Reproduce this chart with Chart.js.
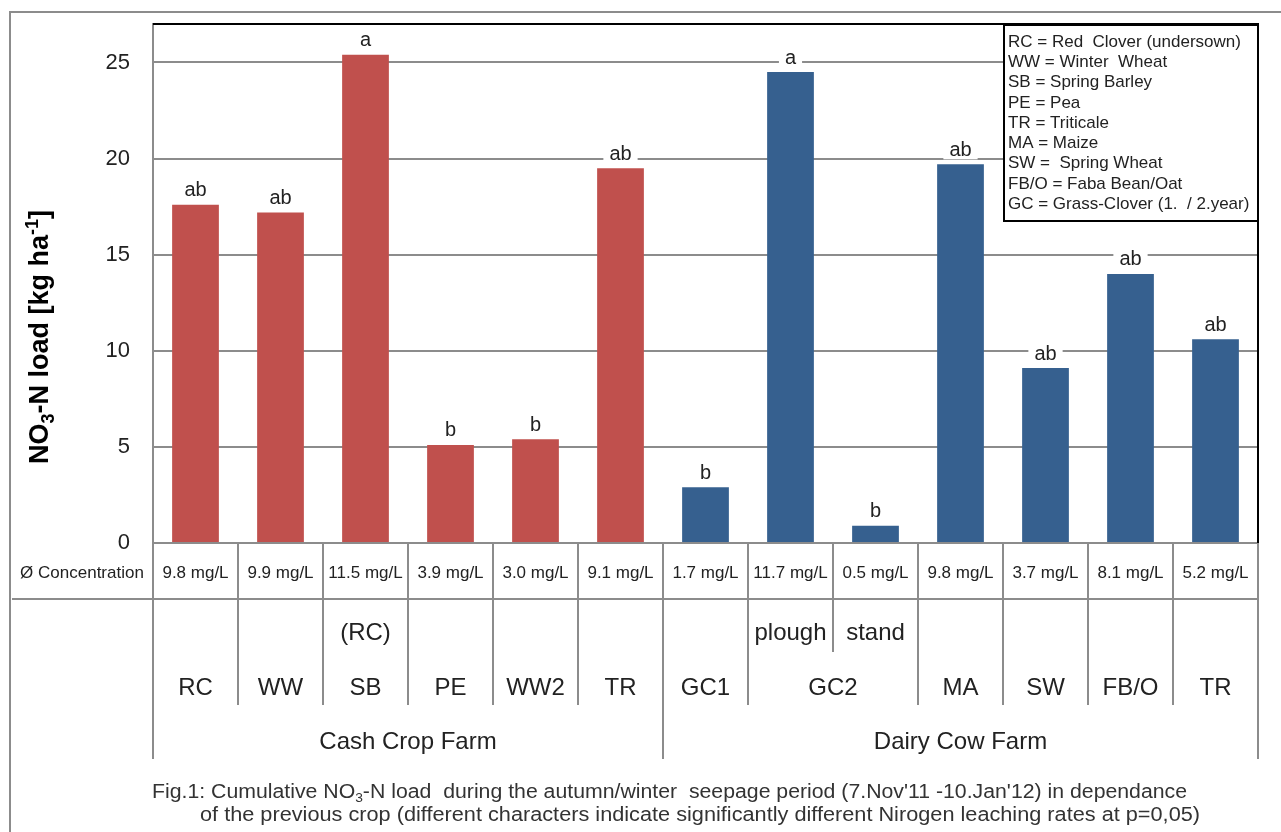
<!DOCTYPE html>
<html>
<head>
<meta charset="utf-8">
<script src="https://cdn.jsdelivr.net/npm/chart.js@4.4.1/dist/chart.umd.min.js"></script>
<style>
  html, body { margin: 0; padding: 0; background: #fff; }
  #wrap { width: 1281px; height: 832px; position: relative; }
</style>
</head>
<body>
<div id="wrap"><canvas id="chart"></canvas></div>
<script>
// Data
const barKeys = ['RC', 'WW', 'SB', 'PE', 'WW2', 'TR', 'GC1', 'GC2 plough', 'GC2 stand', 'MA', 'SW', 'FB/O', 'TR2'];
const cropLabels = ['RC', 'WW', 'SB', 'PE', 'WW2', 'TR', 'GC1', 'GC2', 'GC2', 'MA', 'SW', 'FB/O', 'TR'];
const cropNotes = ['', '', '(RC)', '', '', '', '', 'plough', 'stand', '', '', '', ''];
const farmOfBar = ['Cash Crop Farm', 'Cash Crop Farm', 'Cash Crop Farm', 'Cash Crop Farm', 'Cash Crop Farm', 'Cash Crop Farm',
  'Dairy Cow Farm', 'Dairy Cow Farm', 'Dairy Cow Farm', 'Dairy Cow Farm', 'Dairy Cow Farm', 'Dairy Cow Farm', 'Dairy Cow Farm'];
const no3Load = [17.6, 17.2, 25.4, 5.1, 5.4, 19.5, 2.9, 24.5, 0.9, 19.7, 9.1, 14.0, 10.6];
const sigLetters = ['ab', 'ab', 'a', 'b', 'b', 'ab', 'b', 'a', 'b', 'ab', 'ab', 'ab', 'ab'];
const concentrations = ['9.8 mg/L', '9.9 mg/L', '11.5 mg/L', '3.9 mg/L', '3.0 mg/L', '9.1 mg/L',
  '1.7 mg/L', '11.7 mg/L', '0.5 mg/L', '9.8 mg/L', '3.7 mg/L', '8.1 mg/L', '5.2 mg/L'];
const legendLines = [
  'RC = Red  Clover (undersown)',
  'WW = Winter  Wheat',
  'SB = Spring Barley',
  'PE = Pea',
  'TR = Triticale',
  'MA = Maize',
  'SW =  Spring Wheat',
  'FB/O = Faba Bean/Oat',
  'GC = Grass-Clover (1.  / 2.year)'
];

const FARM_COLORS = { 'Cash Crop Farm': '#C0504D', 'Dairy Cow Farm': '#36608F' };
const GRID = '#8c8c8c';
const TEXT = '#222222';
const FONT = "'Liberation Sans', Arial, sans-serif";

Chart.defaults.font.family = FONT;

// draw a run of text pieces (with sub/superscripts), squeezed to a width if asked
function drawRich(ctx, parts, x, y, size, bold, fitWidth) {
  const w = bold ? 'bold ' : '';
  let total = 0;
  parts.forEach(p => {
    ctx.font = w + (p.small ? Math.round(size * 0.65) : size) + 'px ' + FONT;
    p.w = ctx.measureText(p.t).width;
    total += p.w;
  });
  const sx = fitWidth ? fitWidth / total : 1;
  ctx.save();
  ctx.translate(x, y);
  ctx.scale(sx, 1);
  let cx = 0;
  parts.forEach(p => {
    ctx.font = w + (p.small ? Math.round(size * 0.65) : size) + 'px ' + FONT;
    ctx.fillText(p.t, cx, p.dy || 0);
    cx += p.w;
  });
  ctx.restore();
  return total;
}

const figurePlugin = {
  id: 'figure',
  afterDatasetsDraw(chart) {
    const ctx = chart.ctx;
    const area = chart.chartArea;
    // black frame at top and right of the plot
    ctx.save();
    ctx.strokeStyle = '#000';
    ctx.lineWidth = 2;
    ctx.beginPath();
    ctx.moveTo(area.left, area.top);
    ctx.lineTo(area.right, area.top);
    ctx.lineTo(area.right, area.bottom);
    ctx.stroke();

    // significance letters over the bars
    ctx.font = '20px ' + FONT;
    ctx.textAlign = 'center';
    ctx.textBaseline = 'middle';
    chart.getDatasetMeta(0).data.forEach((bar, i) => {
      const ty = bar.y - 14;
      const tw = ctx.measureText(sigLetters[i]).width;
      ctx.fillStyle = '#fff';
      ctx.fillRect(bar.x - tw / 2 - 6, ty - 9, tw + 12, 18);
      ctx.fillStyle = TEXT;
      ctx.fillText(sigLetters[i], bar.x, ty);
    });
    ctx.restore();
  },
  afterDraw(chart) {
    const ctx = chart.ctx;
    const area = chart.chartArea;
    const xs = chart.scales.x;
    const half = (xs.getPixelForValue(1) - xs.getPixelForValue(0)) / 2;
    const edge = i => xs.getPixelForValue(i) - half;   // left edge of column i
    const n = no3Load.length;
    const rowTop = area.bottom, row1 = 599, row2 = 705, row3 = 759, noteSplit = 652;

    ctx.save();
    ctx.strokeStyle = GRID;
    ctx.lineWidth = 2;
    ctx.beginPath();
    // outer frame
    ctx.moveTo(10, 832); ctx.lineTo(10, 12); ctx.lineTo(1281, 12);
    // row line under concentrations
    ctx.moveTo(12, row1); ctx.lineTo(area.right, row1);
    for (let i = 0; i <= n; i++) {
      const x = edge(i);
      ctx.moveTo(x, rowTop);
      ctx.lineTo(x, row1);
      if (i === 0 || i === n || farmOfBar[i] !== farmOfBar[i - 1]) {
        ctx.lineTo(x, row3);
      } else if (cropLabels[i] !== cropLabels[i - 1]) {
        ctx.lineTo(x, row2);
      } else {
        ctx.lineTo(x, noteSplit);
      }
    }
    ctx.stroke();

    ctx.fillStyle = TEXT;
    ctx.textAlign = 'center';
    ctx.textBaseline = 'middle';

    // concentration row
    ctx.font = '17px ' + FONT;
    ctx.fillText('\u00D8 Concentration', 82, 573);
    concentrations.forEach((c, i) => ctx.fillText(c, xs.getPixelForValue(i), 573));

    // crop names, merged where neighbours share a name
    ctx.font = '24px ' + FONT;
    let i = 0;
    while (i < n) {
      let j = i;
      while (j + 1 < n && cropLabels[j + 1] === cropLabels[i]) j++;
      ctx.fillText(cropLabels[i], (edge(i) + edge(j + 1)) / 2, 688);
      i = j + 1;
    }
    cropNotes.forEach((t, k) => { if (t) ctx.fillText(t, xs.getPixelForValue(k), 633); });

    // farm names
    i = 0;
    while (i < n) {
      let j = i;
      while (j + 1 < n && farmOfBar[j + 1] === farmOfBar[i]) j++;
      ctx.fillText(farmOfBar[i], (edge(i) + edge(j + 1)) / 2, 742);
      i = j + 1;
    }

    // y axis title, rotated
    ctx.save();
    ctx.translate(48, 337);
    ctx.rotate(-Math.PI / 2);
    ctx.textAlign = 'left';
    ctx.textBaseline = 'alphabetic';
    ctx.fillStyle = '#000';
    const titleParts = [
      { t: 'NO' }, { t: '3', small: true, dy: 6 }, { t: '-N load [kg ha' },
      { t: '-1', small: true, dy: -10 }, { t: ']' }
    ];
    let tw = 0;
    titleParts.forEach(p => {
      ctx.font = 'bold ' + (p.small ? 18 : 27) + 'px ' + FONT;
      tw += ctx.measureText(p.t).width;
    });
    drawRich(ctx, titleParts, -tw / 2, 0, 27, true);
    ctx.restore();

    // abbreviation box
    ctx.fillStyle = '#fff';
    ctx.fillRect(1004, 25, 254, 196);
    ctx.strokeStyle = '#000';
    ctx.lineWidth = 2;
    ctx.strokeRect(1004, 25, 254, 196);
    ctx.fillStyle = TEXT;
    ctx.textAlign = 'left';
    ctx.font = '17px ' + FONT;
    legendLines.forEach((t, k) => ctx.fillText(t, 1008, 42 + k * 20.3));

    // caption
    ctx.fillStyle = '#333';
    ctx.textBaseline = 'alphabetic';
    drawRich(ctx, [
      { t: 'Fig.1: Cumulative NO' }, { t: '3', small: true, dy: 4 },
      { t: "-N load  during the autumn/winter  seepage period (7.Nov'11 -10.Jan'12) in dependance" }
    ], 152, 798, 20, false, 1035);
    drawRich(ctx, [
      { t: 'of the previous crop (different characters indicate significantly different Nirogen leaching rates at p=0,05)' }
    ], 200, 821, 20, false, 1000);
    ctx.restore();
  }
};

new Chart(document.getElementById('chart'), {
  type: 'bar',
  data: {
    labels: barKeys,
    datasets: [{
      data: no3Load,
      backgroundColor: farmOfBar.map(f => FARM_COLORS[f]),
      borderWidth: 0,
      barPercentage: 0.55,
      categoryPercentage: 1
    }]
  },
  options: {
    responsive: true,
    maintainAspectRatio: false,
    animation: false,
    layout: { padding: { left: 0, top: 24, right: 23, bottom: 289 } },
    plugins: {
      legend: { display: false },
      tooltip: { enabled: false }
    },
    scales: {
      x: { display: false },
      y: {
        min: 0,
        max: 27,
        afterFit(scale) { scale.width = 153; },
        afterBuildTicks(scale) { scale.ticks = scale.ticks.filter(t => t.value % 5 === 0); },
        ticks: {
          stepSize: 5,
          includeBounds: false,
          padding: 0,
          color: TEXT,
          font: { size: 22 }
        },
        grid: { color: GRID, lineWidth: 2, drawTicks: true, tickLength: 23, tickColor: 'rgba(0,0,0,0)' },
        border: { color: GRID, width: 2 }
      }
    }
  },
  plugins: [figurePlugin]
});
</script>
</body>
</html>
